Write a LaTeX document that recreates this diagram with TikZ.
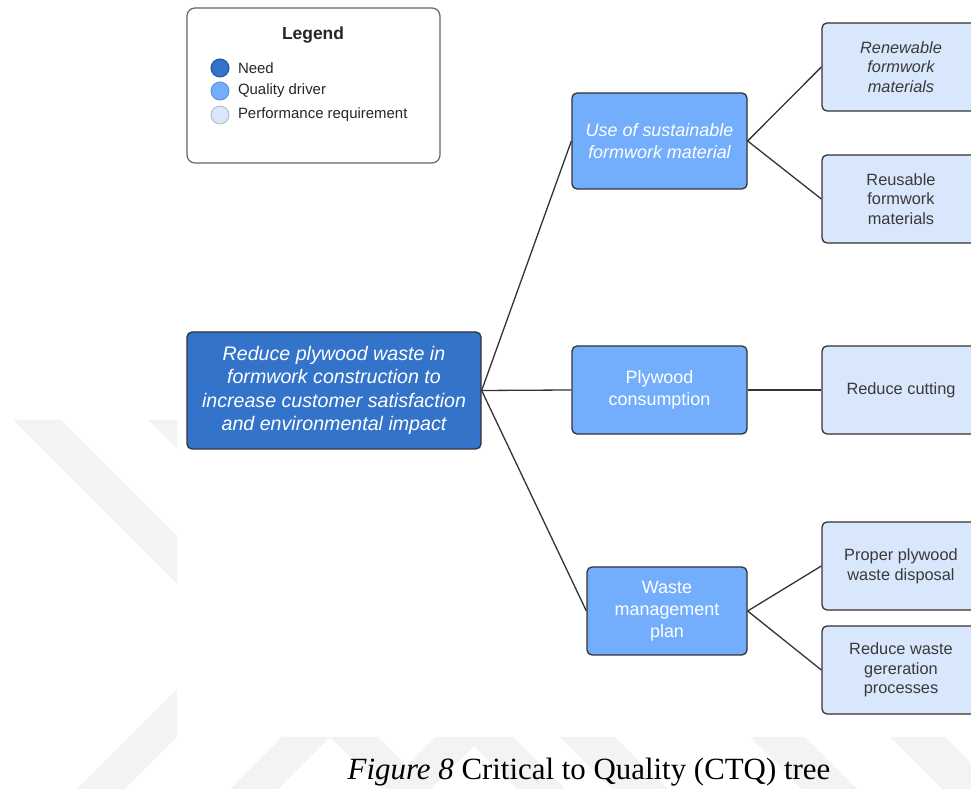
\documentclass[tikz,border=0pt]{standalone}
\usepackage{fontspec}
\setmainfont{Liberation Serif}
\newfontfamily\ctqsans{Liberation Sans}
\usetikzlibrary{positioning}

\definecolor{needcol}{HTML}{3373C9}
\definecolor{drivercol}{HTML}{72AEFC}
\definecolor{reqcol}{HTML}{D8E7FC}
\definecolor{edgecol}{HTML}{333333}
\definecolor{reqtext}{HTML}{3A3A3A}
\definecolor{markcol}{HTML}{F3F3F3}

\begin{document}
\begin{tikzpicture}[x=1bp,y=1bp,
  box/.style={draw=edgecol,line width=1.3bp,rounded corners=5bp,align=center,inner sep=0pt},
  need/.style={box,fill=needcol,text=white,minimum width=294bp,minimum height=117bp,
    font=\ctqsans\itshape\fontsize{19.7}{23.5}\selectfont},
  driver/.style={box,fill=drivercol,text=white,minimum height=88bp,
    font=\ctqsans\fontsize{18}{22}\selectfont},
  driverit/.style={driver,font=\ctqsans\itshape\fontsize{18}{22}\selectfont},
  req/.style={box,fill=reqcol,text=reqtext,minimum width=158bp,minimum height=88bp,
    font=\ctqsans\fontsize{16.4}{19.8}\selectfont},
  reqit/.style={req,font=\ctqsans\itshape\fontsize{16.4}{19.8}\selectfont},
  link/.style={draw=edgecol,line width=1.3bp},
  dot/.style={circle,line width=1bp,minimum size=18bp,inner sep=0pt},
  dotlabel/.style={right=5bp of #1,text=black!85,font=\ctqsans\fontsize{15}{18}\selectfont},
]
\useasboundingbox (0,0) rectangle (971,789);

% Watermark stripes
\begin{scope}
  \clip (0,0) rectangle (971,52) (0,0) rectangle (177,369);
  \fill[markcol] (13,369) -- (61,369) -- (461,-31) -- (413,-31) -- cycle;
  \fill[markcol] (148,369) -- (196,369) -- (596,-31) -- (548,-31) -- cycle;
  \foreach \sx in {77,230,383} {
    \fill[markcol] (\sx,0) -- (\sx+48,0) -- (\sx+148,100) -- (\sx+100,100) -- cycle;
  }
  \foreach \sx in {560,750,890} {
    \fill[markcol] (\sx,52) -- (\sx+55,52) -- (\sx+115,-8) -- (\sx+60,-8) -- cycle;
  }
\end{scope}

% Legend
\node[box,draw=black!60,line width=1.2bp,rounded corners=8bp,fill=white,
  minimum width=253bp,minimum height=155bp] (legend) at (313.5,703.5) {};
\node[font=\ctqsans\bfseries\fontsize{17.5}{20}\selectfont,text=black!85] (legendtitle) at (313,754) {Legend};
\node[dot,fill=needcol,draw=needcol!75!black] (needdot) at (220,721) {};
\node[dot,fill=drivercol,draw=drivercol!85!black] (driverdot) at (220,698) {};
\node[dot,fill=reqcol,draw=black!25] (reqdot) at (220,674) {};
\node[dotlabel=needdot] (needlabel) {Need};
\node[dotlabel=driverdot] (driverlabel) {Quality driver};
\node[dotlabel=reqdot] (reqlabel) {Performance requirement};

% Node: need
\node[need] (need) at (334,398.5) {Reduce plywood waste in\\formwork construction to\\increase customer satisfaction\\and environmental impact};

% Node: quality drivers
\node[driverit,minimum width=175bp,minimum height=96bp] (usemat) at (659.5,648) {Use of sustainable\\formwork material};
\node[driver,minimum width=175bp] (plywood) at (659.5,399) {Plywood\\consumption};
\node[driver,minimum width=160bp] (wasteplan) at (667,178) {Waste\\management\\plan};

% Node: performance requirements
\node[reqit] (renewable) at (901,722) {Renewable\\formwork\\materials};
\node[req] (reusable) at (901,590) {Reusable\\formwork\\materials};
\node[req] (cutting) at (901,399) {Reduce cutting};
\node[req] (disposal) at (901,223) {Proper plywood\\waste disposal};
\node[req] (generation) at (901,119) {Reduce waste\\gereration\\processes};

% Edge: need -> drivers
\draw[link] (need.east) -- (usemat.west);
\draw[link] (need.east) -- (plywood.west);
\draw[link] (need.east) -- (wasteplan.west);

% Edge: drivers -> requirements
\draw[link] (usemat.east) -- (renewable.west);
\draw[link] (usemat.east) -- (reusable.west);
\draw[link] (plywood.east) -- (cutting.west);
\draw[link] (wasteplan.east) -- (disposal.west);
\draw[link] (wasteplan.east) -- (generation.west);

% Caption
\node[anchor=base,font=\fontsize{31}{36}\selectfont] (caption) at (589,9) {\textit{Figure 8} Critical to Quality (CTQ) tree};
%
\end{tikzpicture}
\end{document}
